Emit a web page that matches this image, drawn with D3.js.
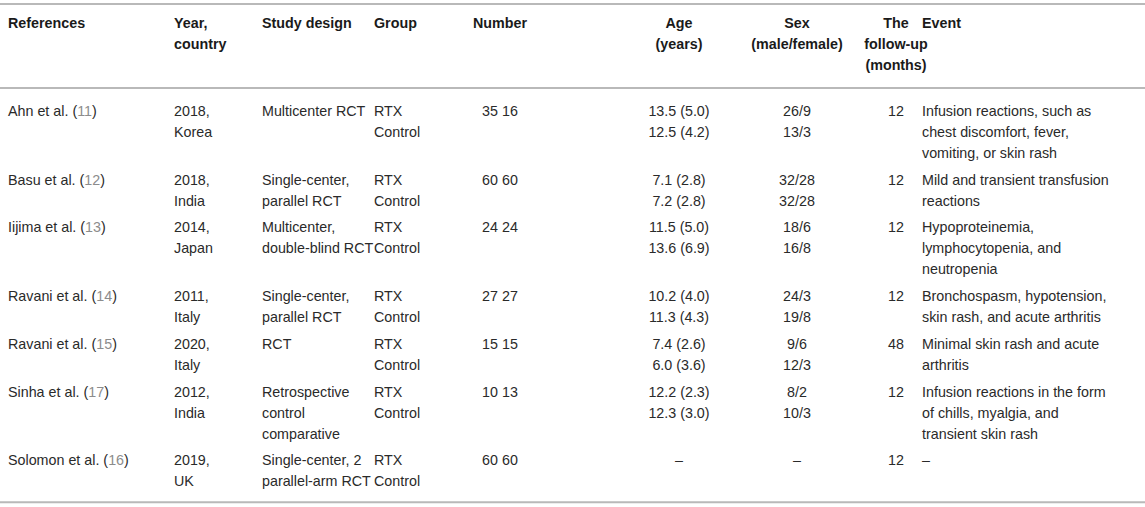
<!DOCTYPE html>
<html>
<head>
<meta charset="utf-8">
<script src="https://cdn.jsdelivr.net/npm/d3@7"></script>
<style>
  html, body { margin: 0; padding: 0; background: #fff; }
  svg text { font-family: "Liberation Sans", Arial, sans-serif; font-size: 14.3px; fill: #2a2a2a; }
  svg text.head { font-weight: bold; fill: #1a1a1a; }
  svg text .ref { fill: #8c8c8c; }
</style>
</head>
<body>
<svg id="table"></svg>
<script>
const columns = [
  ['References'], ['Year,', 'country'], ['Study design'], ['Group'], ['Number'],
  ['Age', '(years)'], ['Sex', '(male/female)'], ['The', 'follow-up', '(months)'], ['Event']
];
const references = ['Ahn et al.', 'Basu et al.', 'Iijima et al.', 'Ravani et al.', 'Ravani et al.', 'Sinha et al.', 'Solomon et al.'];
const refNumbers = [11, 12, 13, 14, 15, 17, 16];
const years = ['2018,', '2018,', '2014,', '2011,', '2020,', '2012,', '2019,'];
const countries = ['Korea', 'India', 'Japan', 'Italy', 'Italy', 'India', 'UK'];
const designs = [
  ['Multicenter RCT'],
  ['Single-center,', 'parallel RCT'],
  ['Multicenter,', 'double-blind RCT'],
  ['Single-center,', 'parallel RCT'],
  ['RCT'],
  ['Retrospective', 'control', 'comparative'],
  ['Single-center, 2', 'parallel-arm RCT']
];
const groups = ['RTX', 'Control'];
const numbersRtx = [35, 60, 24, 27, 15, 10, 60];
const numbersControl = [16, 60, 24, 27, 15, 13, 60];
const ageRtx = ['13.5 (5.0)', '7.1 (2.8)', '11.5 (5.0)', '10.2 (4.0)', '7.4 (2.6)', '12.2 (2.3)', '–'];
const ageControl = ['12.5 (4.2)', '7.2 (2.8)', '13.6 (6.9)', '11.3 (4.3)', '6.0 (3.6)', '12.3 (3.0)', ''];
const sexRtx = ['26/9', '32/28', '18/6', '24/3', '9/6', '8/2', '–'];
const sexControl = ['13/3', '32/28', '16/8', '19/8', '12/3', '10/3', ''];
const followUp = [12, 12, 12, 12, 48, 12, 12];
const events = [
  ['Infusion reactions, such as', 'chest discomfort, fever,', 'vomiting, or skin rash'],
  ['Mild and transient transfusion', 'reactions'],
  ['Hypoproteinemia,', 'lymphocytopenia, and', 'neutropenia'],
  ['Bronchospasm, hypotension,', 'skin rash, and acute arthritis'],
  ['Minimal skin rash and acute', 'arthritis'],
  ['Infusion reactions in the form', 'of chills, myalgia, and', 'transient skin rash'],
  ['–']
];

const width = 1145, height = 507;
const lineH = 21, rowGap = 5.7;
const svg = d3.select('#table').attr('width', width).attr('height', height);

// column positions and alignment
const colX = d3.scaleOrdinal().domain(d3.range(9)).range([8, 174, 262, 374, 500, 679, 797, 896, 922]);
const colAnchor = i => (i >= 4 && i <= 7) ? 'middle' : 'start';

// build row cells
const rows = references.map((r, i) => {
  const cells = [
    [null],
    [years[i], countries[i]],
    designs[i],
    groups,
    [numbersRtx[i] + ' ' + numbersControl[i]],
    [ageRtx[i], ageControl[i]].filter(s => s),
    [sexRtx[i], sexControl[i]].filter(s => s),
    [String(followUp[i])],
    events[i]
  ];
  return { i, cells, n: d3.max(cells, c => c.length) };
});

// vertical layout
const topLine = 4, headFirst = 23, headLine = 88, bodyFirst = 111;
let y = bodyFirst;
rows.forEach(r => { r.y = y; y += r.n * lineH + rowGap; });
const bottomLine = rows[rows.length - 1].y + (rows[rows.length - 1].n - 1) * lineH + 21;

// rules
svg.selectAll('line.rule')
  .data([topLine, headLine, bottomLine])
  .join('line')
  .attr('class', 'rule')
  .attr('x1', 0).attr('x2', width)
  .attr('y1', d => d).attr('y2', d => d)
  .attr('stroke', '#b9b9b9')
  .attr('stroke-width', 2);

const base = 5; // baseline offset from line centre

// header
columns.forEach((lines, c) => {
  svg.append('g').selectAll('text')
    .data(lines)
    .join('text')
    .attr('class', 'head')
    .attr('x', colX(c))
    .attr('y', (d, k) => headFirst + k * lineH + base)
    .attr('text-anchor', colAnchor(c))
    .text(d => d);
});

// body
rows.forEach(r => {
  const g = svg.append('g');
  // reference with grey citation number
  const ref = g.append('text')
    .attr('x', colX(0))
    .attr('y', r.y + base);
  ref.append('tspan').text(references[r.i] + ' (');
  ref.append('tspan').attr('class', 'ref').text(refNumbers[r.i]);
  ref.append('tspan').text(')');

  r.cells.forEach((lines, c) => {
    if (c === 0) return;
    g.append('g').selectAll('text')
      .data(lines)
      .join('text')
      .attr('x', colX(c))
      .attr('y', (d, k) => r.y + k * lineH + base)
      .attr('text-anchor', colAnchor(c))
      .text(d => d);
  });
});
</script>
</body>
</html>
